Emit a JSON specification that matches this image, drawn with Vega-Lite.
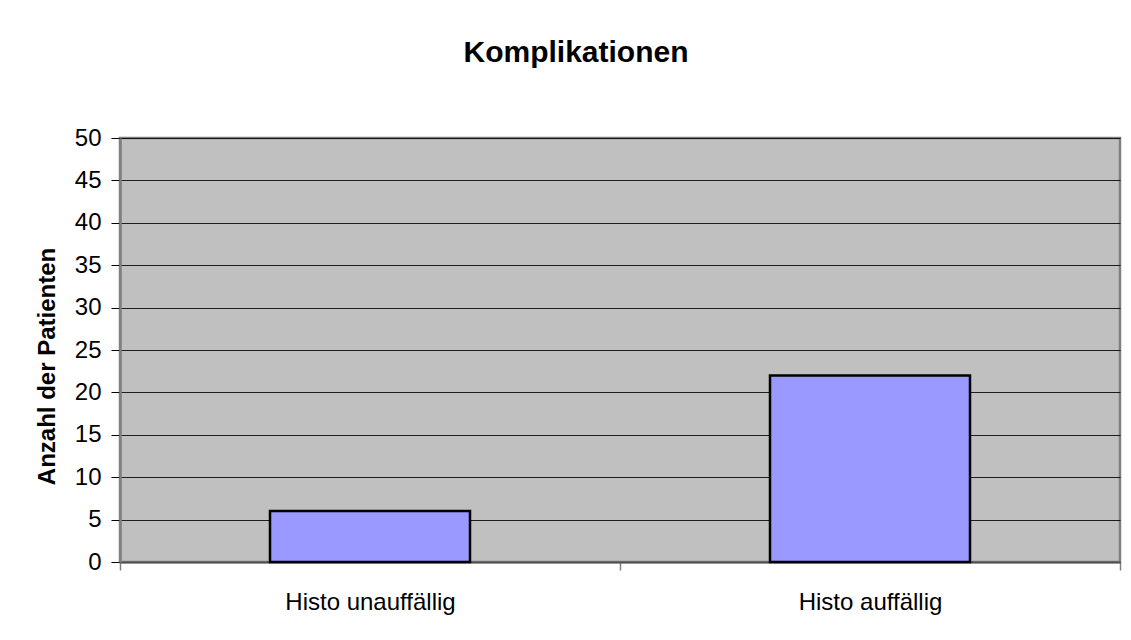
{
  "$schema": "https://vega.github.io/schema/vega-lite/v6.json",
  "autosize": "none",
  "width": 1000,
  "height": 424,
  "padding": {"left": 120, "top": 138, "right": 11, "bottom": 78},
  "background": "white",
  "title": {
    "text": "Komplikationen",
    "font": "Liberation Sans",
    "fontSize": 30,
    "fontWeight": "bold",
    "color": "#000000",
    "anchor": "middle",
    "frame": "group",
    "dx": -44,
    "offset": 58
  },
  "data": {
    "values": [
      {"Gruppe": "Histo unauffällig", "Anzahl": 6},
      {"Gruppe": "Histo auffällig", "Anzahl": 22}
    ]
  },
  "mark": {"type": "bar", "fill": "#9999FF", "stroke": "#000000", "strokeWidth": 2.5, "width": {"band": 0.4}},
  "encoding": {
    "x": {
      "field": "Gruppe",
      "type": "nominal",
      "sort": null,
      "scale": {"paddingInner": 0, "paddingOuter": 0},
      "axis": {
        "title": null,
        "labelAngle": 0,
        "labelFont": "Liberation Sans",
        "labelFontSize": 24,
        "labelColor": "#000000",
        "labelPadding": 20,
        "tickBand": "extent",
        "tickSize": 8,
        "tickColor": "#808080",
        "tickWidth": 1.5,
        "domainColor": "#505050",
        "domainWidth": 2,
        "grid": false
      }
    },
    "y": {
      "field": "Anzahl",
      "type": "quantitative",
      "scale": {"domain": [0, 50], "nice": false},
      "axis": {
        "title": "Anzahl der Patienten",
        "titleFont": "Liberation Sans",
        "titleFontSize": 24,
        "titleFontWeight": "bold",
        "titleColor": "#000000",
        "titlePadding": 15,
        "titleY": 228,
        "values": [0, 5, 10, 15, 20, 25, 30, 35, 40, 45, 50],
        "labelFont": "Liberation Sans",
        "labelFontSize": 24,
        "labelColor": "#000000",
        "labelPadding": 10,
        "tickSize": 9,
        "tickColor": "#000000",
        "tickWidth": 1,
        "domainColor": "#808080",
        "domainWidth": 2.5,
        "grid": true,
        "gridColor": "#000000",
        "gridWidth": 1,
        "gridOpacity": 0.85
      }
    }
  },
  "config": {
    "view": {"fill": "#C0C0C0", "stroke": "#808080", "strokeWidth": 2.5}
  }
}
